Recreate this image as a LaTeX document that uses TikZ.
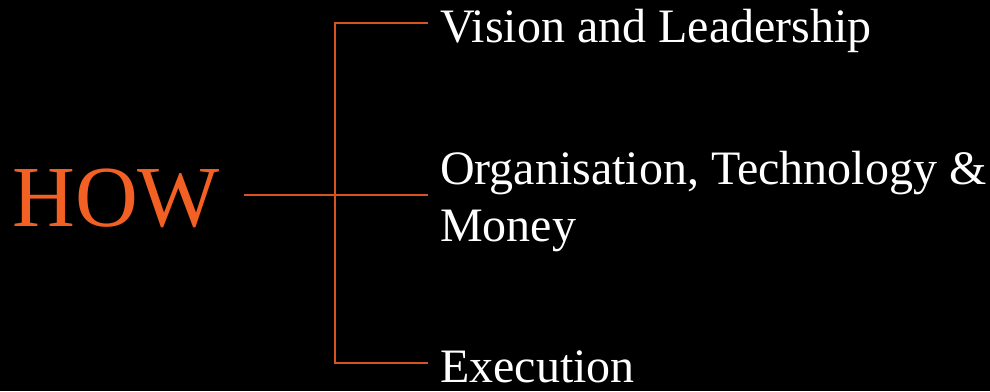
\documentclass[tikz,border=0pt]{standalone}
\usepackage{fontspec}
\setmainfont{Liberation Serif}
\usetikzlibrary{positioning}
\definecolor{howorange}{RGB}{242, 96, 36}
\definecolor{linkorange}{RGB}{214, 84, 32}

\tikzset{
    branch/.style={anchor=base west, inner xsep=12pt, inner ysep=0pt, text=white,
        font=\fontsize{48}{57}\selectfont, align=left},
    link/.style={draw=linkorange, line width=1.3pt},
}

\begin{document}
\begin{tikzpicture}[x=1pt, y=1pt]
    \fill[black] (0,0) rectangle (990,391);
    \useasboundingbox (0,0) rectangle (990,391);
    % left label
    \node[anchor=base west, inner xsep=24pt, inner ysep=0pt, text=howorange,
        font=\fontsize{87}{87}\selectfont] (how) at (-12,164) {HOW};
    % the three branches
    \node[branch] (vision) at (428,348) {Vision and Leadership};
    \node[branch] (org) at (428,149) {Organisation, Technology \&\\Money};
    \node[branch] (exec) at (428,9) {Execution};
    \coordinate (hub) at (335,196);
    \coordinate (top) at (335,368);
    \coordinate (bottom) at (335,28);
    \draw[link] (how.east |- hub) -- (hub) -- (hub -| org.west);
    \draw[link] (top -| vision.west) -- (top) -- (bottom) -- (bottom -| exec.west);
\end{tikzpicture}
\end{document}
